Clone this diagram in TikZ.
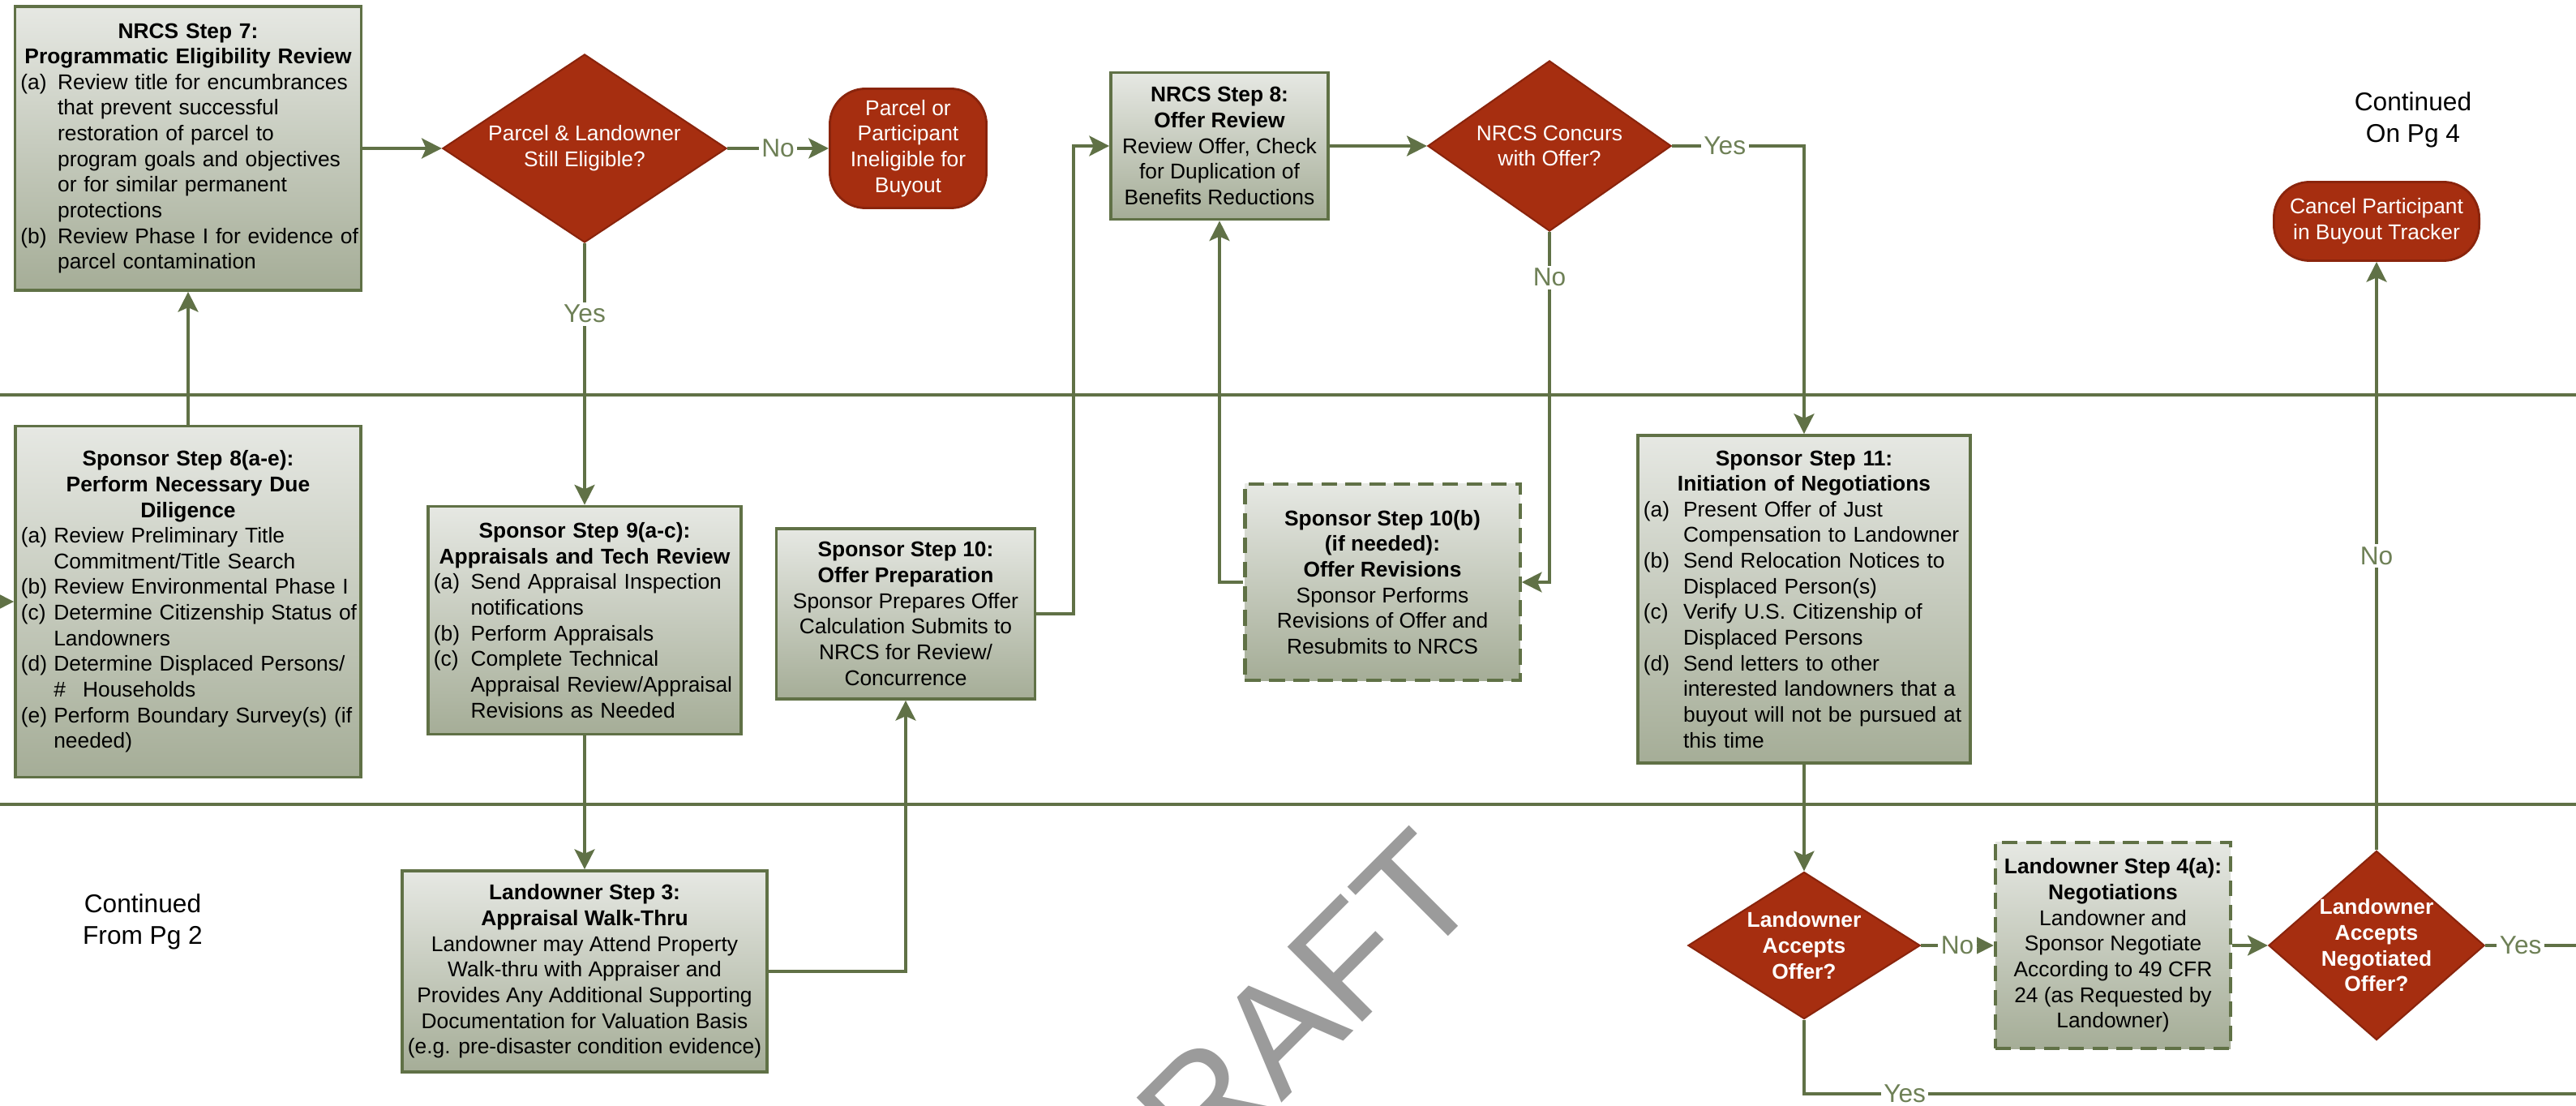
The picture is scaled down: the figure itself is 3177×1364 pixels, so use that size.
\documentclass[tikz,border=0pt]{standalone}
\usepackage[svgnames]{xcolor}
\usepackage{fontspec}
\setmainfont{Liberation Sans}
\usepackage{tikz}
\usetikzlibrary{shapes.geometric, arrows.meta}

\definecolor{lanegreen}{RGB}{96,113,70}
\definecolor{labgreen}{RGB}{110,128,86}
\definecolor{boxtop}{RGB}{230,232,227}
\definecolor{boxbot}{RGB}{165,173,151}
\definecolor{decred}{RGB}{166,46,16}
\definecolor{decedge}{RGB}{138,36,12}
\definecolor{wmgray}{RGB}{155,155,155}

\newlength{\itmw}
\setlength{\itmw}{13pt}
\newcommand{\itm}[2]{\mbox{\makebox[\itmw][l]{#1}#2}}
\newcommand{\itc}[1]{\mbox{\hspace*{\itmw}#1}}

\begin{document}
\begin{tikzpicture}[x=0.01cm, y=-0.01cm,
		box/.style={rectangle, draw=lanegreen, line width=1pt, top color=boxtop, bottom color=boxbot, inner xsep=2pt, inner ysep=2pt, font=\fontsize{7.5}{9}\selectfont},
		dbox/.style={box, dash pattern=on 5.5pt off 3pt, line width=1.2pt},
		dec/.style={diamond, aspect=1.3, draw=decedge, line width=0.6pt, fill=decred, text=white, align=center, inner sep=-2pt, font=\fontsize{7.5}{9}\selectfont},
		decb/.style={dec, font=\fontsize{7.5}{9}\selectfont\bfseries},
		term/.style={rectangle, rounded corners=12.5pt, draw=decedge, line width=0.8pt, fill=decred, text=white, align=center, inner sep=0pt, font=\fontsize{7.5}{9}\selectfont},
		link/.style={draw=lanegreen, line width=1.4pt},
		conn/.style={link, -{Stealth[length=7pt, width=7pt, inset=1.5pt]}},
		lab/.style={fill=white, text=labgreen, inner sep=1pt, font=\fontsize{9}{10}\selectfont},
		note/.style={align=center, font=\fontsize{9}{11}\selectfont}]
		\useasboundingbox (0,0) rectangle (3177,1364);
		\draw[lanegreen, line width=1pt] (0,487) -- (3177,487);
		\draw[lanegreen, line width=1pt] (0,992) -- (3177,992);
		\node[rotate=45, anchor=base, text=wmgray, inner sep=0pt, font=\fontsize{54}{54}\selectfont] (wm) at (1610,1331) {DRAFT};

		\node[box, minimum width=4.27cm, minimum height=3.5cm, text width=4.13cm, align=left] (s7) at (232,183) {{\centering\bfseries NRCS Step 7:\\Programmatic Eligibility Review\par}
			\itm{(a)}{Review title for encumbrances}\\
			\itc{that prevent successful}\\
			\itc{restoration of parcel to}\\
			\itc{program goals and objectives}\\
			\itc{or for similar permanent}\\
			\itc{protections}\\
			\itm{(b)}{Review Phase I for evidence of}\\
			\itc{parcel contamination}};
		\node[dec, minimum width=3.5cm, minimum height=2.32cm] (d1) at (721,183) {Parcel \& Landowner\\Still Eligible?};
		\node[term, minimum width=1.93cm, minimum height=1.47cm] (t1) at (1120,183) {Parcel or\\Participant\\Ineligible for\\Buyout};
		\node[box, minimum width=2.68cm, minimum height=1.81cm, align=center] (s8) at (1504,180) {\textbf{NRCS Step 8:}\\\textbf{Offer Review}\\Review Offer, Check\\for Duplication of\\Benefits Reductions};
		\node[dec, minimum width=3cm, minimum height=2.1cm] (d2) at (1911,180) {NRCS Concurs\\with Offer?};
		\node[note] (c4) at (2976,148) {Continued\\On Pg 4};
		\node[term, minimum width=2.53cm, minimum height=0.97cm] (t2) at (2931,273) {Cancel Participant\\in Buyout Tracker};

		\node[box, minimum width=4.26cm, minimum height=4.33cm, text width=4.12cm, align=left] (sp8) at (232,742) {\setlength{\itmw}{11.5pt}{\centering\bfseries Sponsor Step 8(a-e):\\Perform Necessary Due\\Diligence\par}
			\itm{(a)}{Review Preliminary Title}\\
			\itc{Commitment/Title Search}\\
			\itm{(b)}{Review Environmental Phase I}\\
			\itm{(c)}{Determine Citizenship Status of}\\
			\itc{Landowners}\\
			\itm{(d)}{Determine Displaced Persons/}\\
			\itc{\#\hspace{6pt}Households}\\
			\itm{(e)}{Perform Boundary Survey(s) (if}\\
			\itc{needed)}};
		\node[box, minimum width=3.86cm, minimum height=2.81cm, text width=3.72cm, align=left] (sp9) at (721,765) {{\centering\bfseries Sponsor Step 9(a-c):\\Appraisals and Tech Review\par}
			\itm{(a)}{Send Appraisal Inspection}\\
			\itc{notifications}\\
			\itm{(b)}{Perform Appraisals}\\
			\itm{(c)}{Complete Technical}\\
			\itc{Appraisal Review/Appraisal}\\
			\itc{Revisions as Needed}};
		\node[box, minimum width=3.19cm, minimum height=2.1cm, align=center] (sp10) at (1117,757) {\textbf{Sponsor Step 10:}\\\textbf{Offer Preparation}\\Sponsor Prepares Offer\\Calculation Submits to\\NRCS for Review/\\Concurrence};
		\node[dbox, minimum width=3.39cm, minimum height=2.42cm, align=center] (sp10b) at (1705,718) {\textbf{Sponsor Step 10(b)}\\\textbf{(if needed):}\\\textbf{Offer Revisions}\\Sponsor Performs\\Revisions of Offer and\\Resubmits to NRCS};
		\node[box, minimum width=4.1cm, minimum height=4.04cm, text width=3.96cm, align=left] (sp11) at (2225,739) {\setlength{\itmw}{14pt}{\centering\bfseries Sponsor Step 11:\\Initiation of Negotiations\par}
			\itm{(a)}{Present Offer of Just}\\
			\itc{Compensation to Landowner}\\
			\itm{(b)}{Send Relocation Notices to}\\
			\itc{Displaced Person(s)}\\
			\itm{(c)}{Verify U.S. Citizenship of}\\
			\itc{Displaced Persons}\\
			\itm{(d)}{Send letters to other}\\
			\itc{interested landowners that a}\\
			\itc{buyout will not be pursued at}\\
			\itc{this time}};

		\node[note] (c2) at (176,1137) {Continued\\From Pg 2};
		\node[box, minimum width=4.5cm, minimum height=2.48cm, align=center] (lo3) at (721,1198) {\textbf{Landowner Step 3:}\\\textbf{Appraisal Walk-Thru}\\Landowner may Attend Property\\Walk-thru with Appraiser and\\Provides Any Additional Supporting\\Documentation for Valuation Basis\\(e.g. pre-disaster condition evidence)};
		\node[decb, minimum width=2.86cm, minimum height=1.81cm] (d3) at (2225,1166) {Landowner\\Accepts\\Offer?};
		\node[dbox, minimum width=2.9cm, minimum height=2.54cm, align=center] (lo4) at (2606,1166) {\textbf{Landowner Step 4(a):}\\\textbf{Negotiations}\\Landowner and\\Sponsor Negotiate\\According to 49 CFR\\24 (as Requested by\\Landowner)};
		\node[decb, minimum width=2.66cm, minimum height=2.33cm] (d4) at (2931,1166) {Landowner\\Accepts\\Negotiated\\Offer?};

		\coordinate (inl) at (-30,742);
		\coordinate (j1) at (1324,180);
		\coordinate (o1) at (3210,1166);
		\coordinate (o2) at (3210,1349);

		\draw[conn] (inl) -- (sp8.west);
		\draw[conn] (sp8.north) -- (s7.south);
		\draw[conn] (s7.east) -- (d1.west);
		\draw[conn] (d1.east) -- node[lab]{No} (t1.west);
		\draw[conn] (d1.south) -- node[lab, pos=0.27]{Yes} (sp9.north);
		\draw[conn] (sp9.south) -- (lo3.north);
		\draw[conn] (lo3.east) -| (sp10.south);
		\draw[conn] (sp10.east) -| (j1) -- (s8.west);
		\draw[conn] (s8.east) -- (d2.west);
		\draw[conn] (d2.east) -| node[lab, pos=0.2]{Yes} (sp11.north);
		\draw[conn] (d2.south) |- node[lab, pos=0.065]{No} (sp10b.east);
		\draw[conn] (sp10b.west) -| (s8.south);
		\draw[conn] (sp11.south) -- (d3.north);
		\draw[conn] (d3.east) -- node[lab]{No} (lo4.west);
		\draw[conn] (lo4.east) -- (d4.west);
		\draw[conn] (d4.north) -- node[lab]{No} (t2.south);
		\draw[link] (d4.east) -- node[lab, pos=0.3]{Yes} (o1);
		\draw[link] (d3.south) |- node[lab, pos=0.563]{Yes} (o2);
		\end{tikzpicture}
\end{document}
